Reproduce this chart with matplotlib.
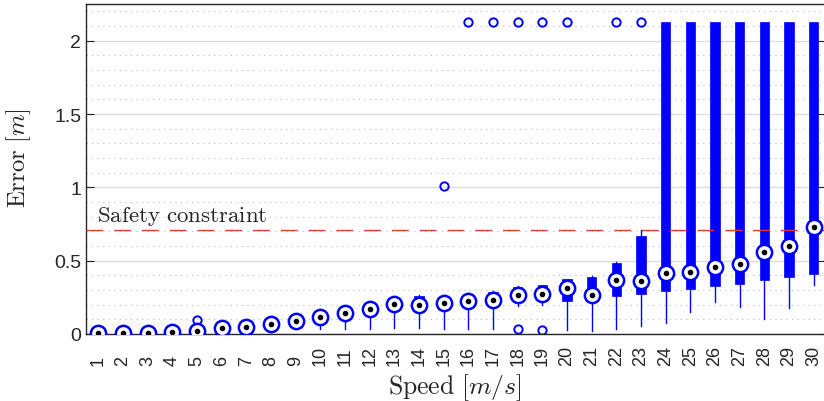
import numpy as np
import matplotlib
matplotlib.use('Agg')
import matplotlib.pyplot as plt
from matplotlib.ticker import MultipleLocator

plt.rcParams['mathtext.fontset'] = 'cm'
plt.rcParams['font.family'] = ['Liberation Sans', 'DejaVu Sans']

speeds = list(range(1, 31))

med = [0.010, 0.010, 0.010, 0.015, 0.020, 0.040, 0.048, 0.068, 0.089, 0.114,
       0.146, 0.168, 0.207, 0.200, 0.210, 0.223, 0.234, 0.268, 0.271, 0.316,
       0.266, 0.369, 0.364, 0.414, 0.421, 0.457, 0.476, 0.562, 0.600, 0.728]
q1 = [0.005, 0.005, 0.005, 0.008, 0.012, 0.030, 0.040, 0.058, 0.078, 0.100,
      0.130, 0.150, 0.190, 0.180, 0.190, 0.200, 0.210, 0.240, 0.245, 0.223,
      0.250, 0.262, 0.273, 0.291, 0.307, 0.325, 0.341, 0.369, 0.391, 0.412]
q3 = [0.015, 0.015, 0.015, 0.020, 0.028, 0.050, 0.056, 0.078, 0.100, 0.125,
      0.160, 0.180, 0.230, 0.260, 0.230, 0.273, 0.289, 0.323, 0.332, 0.373,
      0.389, 0.487, 0.671, 2.130, 2.130, 2.130, 2.130, 2.130, 2.130, 2.130]
whislo = [0.000, 0.000, 0.000, 0.000, 0.005, 0.020, 0.030, 0.045, 0.065, 0.034,
          0.034, 0.034, 0.039, 0.040, 0.034, 0.034, 0.034, 0.193, 0.198, 0.027,
          0.023, 0.034, 0.052, 0.075, 0.152, 0.220, 0.187, 0.100, 0.180, 0.337]
whishi = [0.015, 0.015, 0.015, 0.020, 0.028, 0.050, 0.056, 0.078, 0.100, 0.125,
          0.160, 0.180, 0.230, 0.265, 0.230, 0.278, 0.292, 0.326, 0.336, 0.376,
          0.395, 0.490, 0.710, 2.130, 2.130, 2.130, 2.130, 2.130, 2.130, 2.130]
fliers = [[], [], [0.020, 0.012], [0.022, 0.010], [0.098], [], [], [], [], [],
          [], [], [], [], [1.012], [2.13], [2.13], [0.032, 2.13], [0.030, 2.13], [2.13],
          [], [2.13], [2.13], [], [], [], [], [], [], []]

safety = 0.71
blue = '#0000ff'

stats = []
for i in range(len(speeds)):
    stats.append({'med': med[i], 'q1': q1[i], 'q3': q3[i],
                  'whislo': whislo[i], 'whishi': whishi[i], 'fliers': fliers[i]})

fig = plt.figure(figsize=(8.24, 4.02), dpi=100)
ax = fig.add_axes([86 / 824, 67 / 402, 740 / 824, 330 / 402])

ax.bxp(stats, positions=speeds, widths=0.38, patch_artist=True, showcaps=False,
       boxprops=dict(facecolor=blue, edgecolor=blue, linewidth=0.5),
       whiskerprops=dict(color=blue, linewidth=1.0),
       medianprops=dict(linewidth=0),
       flierprops=dict(marker='o', markerfacecolor='none', markeredgecolor=blue,
                       markersize=6, markeredgewidth=1.4))

ax.plot(speeds, med, 'o', ms=11, mfc='white', mec=blue, mew=1.8, ls='none', zorder=5)
ax.plot(speeds, med, 'o', ms=3, mfc='black', mec='black', ls='none', zorder=6)

ax.axhline(safety, color='#e03c3c', lw=1.0, dashes=(12, 8), zorder=4)
ax.text(0.96, safety + 0.06, r'$\mathrm{Safety\ constraint}$', fontsize=16.5, color='#262626')

ax.set_xlim(0.5, 30.5)
ax.set_ylim(0, 2.25)
ax.set_xticks(speeds)
ax.set_xticklabels([])
# tick labels rotated and bottom-aligned, as in the original
for s in speeds:
    ax.text(s, -0.094, str(s), transform=ax.get_xaxis_transform(), rotation=90,
            ha='center', va='bottom', fontsize=13, color='#262626')
ax.set_yticks([0, 0.5, 1, 1.5, 2])
ax.set_yticklabels(['0', '0.5', '1', '1.5', '2'], fontsize=14)
ax.yaxis.set_minor_locator(MultipleLocator(0.1))
ax.tick_params(axis='y', which='major', direction='in', length=6, right=True, colors='#262626')
ax.tick_params(axis='y', which='minor', length=0)
ax.tick_params(axis='x', length=0)

ax.set_axisbelow(True)
ax.grid(axis='y', which='major', color='#dcdcdc', lw=1.0, ls='-')
ax.grid(axis='y', which='minor', color='#bdbdbd', lw=0.8, ls=(0, (1, 4)))

for s in ax.spines.values():
    s.set_color('#262626')
    s.set_linewidth(1.0)

ax.set_xlabel(r'$\mathrm{Speed}\ [m/s]$', fontsize=18.5, color='#262626')
ax.xaxis.set_label_coords(0.499, -0.112)
ax.set_ylabel(r'$\mathrm{Error}\ [m]$', fontsize=17.8, color='#262626')
ax.yaxis.set_label_coords(-0.072, 0.536)

fig.savefig('out.png', dpi=100)
